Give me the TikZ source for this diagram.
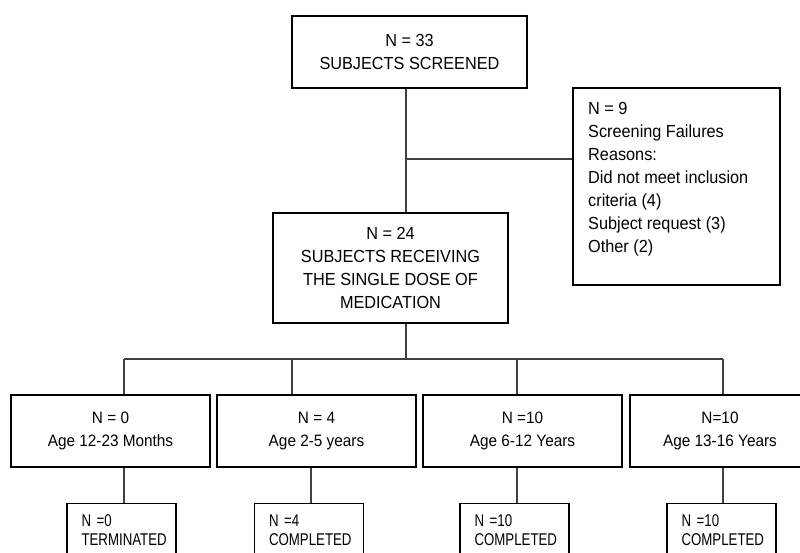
\documentclass[tikz,border=0pt]{standalone}
\usepackage{fontspec}
\setmainfont{Liberation Sans}[FakeStretch=0.93]
\newfontfamily\narrowfont{Liberation Sans}[FakeStretch=0.78]

\begin{document}
\begin{tikzpicture}[
  x=1pt,y=-1pt,
  every node/.style={inner sep=0pt,font=\fontsize{17.5}{23}\selectfont},
  box/.style={draw=black,line width=1.4pt,align=center},
  agebox/.style={box,minimum width=199pt,minimum height=72pt,font=\fontsize{16.5}{23}\selectfont},
  endbox/.style={draw=black,line width=1.4pt,anchor=north,align=left,text width=80pt,inner xsep=14.5pt,
    minimum height=53pt,font=\narrowfont\fontsize{17}{19}\selectfont},
  link/.style={draw=black!75,line width=1.2pt}
]
\useasboundingbox (0,0) rectangle (800,553);
% ================= screening =================
\node[box,minimum width=235pt,minimum height=72pt] (screen) at (409.5,52) {N = 33\\SUBJECTS SCREENED};
\node[box,minimum width=235pt,minimum height=110pt] (dose) at (390.5,268)
  {N = 24\\SUBJECTS RECEIVING\\THE SINGLE DOSE OF\\MEDICATION};
\node[draw=black,line width=1.4pt,minimum width=207pt,minimum height=197pt] (fail) at (676.5,186.5) {};
\node[anchor=north west,align=left] (failtxt) at (588,102)
  {N = 9\\Screening Failures\\Reasons:\\Did not meet inclusion\\criteria (4)\\Subject request (3)\\Other (2)};
\coordinate (split) at (406,159);
\draw[link] (screen.south -| split) -- (dose.north -| split);
\draw[link] (split) -- (split -| fail.west);
% ================= age groups =================
\node[agebox] (age1) at (110.5,431) {N = 0\\Age 12-23 Months};
\node[agebox] (age2) at (316.5,431) {N = 4\\Age 2-5 years};
\node[agebox] (age3) at (522.5,431) {N =10\\Age 6-12 Years};
\node[agebox,minimum width=180pt] (age4) at (720,431) {N=10\\Age 13-16 Years};
\coordinate (bar) at (406,359);
\coordinate (j1) at (124,359);
\coordinate (j2) at (292,359);
\coordinate (j3) at (517,359);
\coordinate (j4) at (723,359);
\draw[link] (dose.south -| bar) -- (bar);
\draw[link] (j1) -- (j4);
% ================= outcome =================
\node[endbox] (res1) at (121.5,503) {N =0\\TERMINATED};
\node[endbox] (res2) at (309,503) {N =4\\COMPLETED};
\node[endbox] (res3) at (514.5,503) {N =10\\COMPLETED};
\node[endbox] (res4) at (721.5,503) {N =10\\COMPLETED};
\coordinate (k1) at (124,503);
\coordinate (k2) at (311,503);
\coordinate (k3) at (517,503);
\coordinate (k4) at (723,503);
\foreach \i in {1,...,4}{
  \draw[link] (j\i) -- (j\i |- age\i.north);
  \draw[link] (age\i.south -| k\i) -- (k\i |- res\i.north);
}
\end{tikzpicture}
\end{document}
